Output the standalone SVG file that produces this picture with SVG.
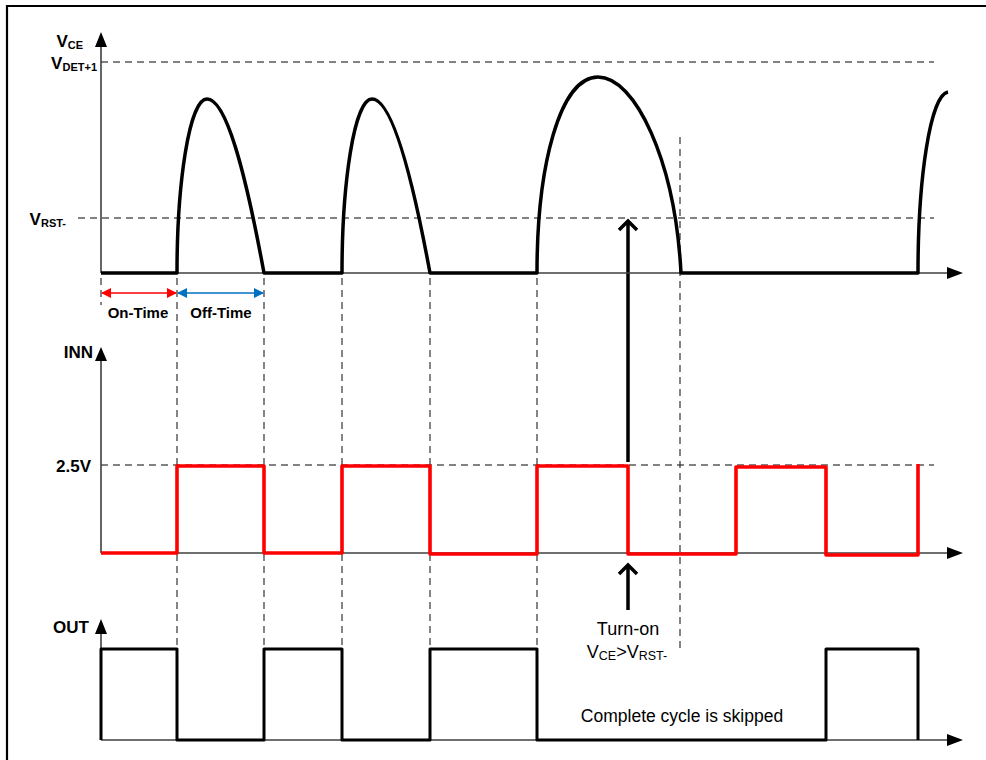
<svg xmlns="http://www.w3.org/2000/svg" width="986" height="760" viewBox="0 0 986 760">
<defs>
<style>
.ax{stroke:#404040;stroke-width:1.6;fill:none}
.ah{fill:#000}
.hdash{stroke:#595959;stroke-width:1.3;stroke-dasharray:7 5;fill:none}
.vdash{stroke:#222;stroke-width:1.1;stroke-dasharray:7 5;fill:none}
.wave{stroke:#000;stroke-width:3.5;fill:none;stroke-linejoin:round}
.red{stroke:#FF0000;stroke-width:3.6;fill:none;stroke-linejoin:round}
.lbl{font-family:"Liberation Sans",Arial,sans-serif;font-weight:bold;font-size:17px;fill:#000}
.sub{font-size:11px}
.lbl.sm{font-size:15px}
.txt{font-family:"Liberation Sans",Arial,sans-serif;font-size:18px;fill:#000}
.txs{font-size:12.5px}
.big{stroke:#000;stroke-width:3.5;fill:none}
</style>
<marker id="redA" markerWidth="10" markerHeight="10" refX="9" refY="5" orient="auto-start-reverse" markerUnits="userSpaceOnUse"><path d="M0,0 L10,5 L0,10 z" fill="#FF0000"/></marker>
<marker id="blueA" markerWidth="10" markerHeight="10" refX="9" refY="5" orient="auto-start-reverse" markerUnits="userSpaceOnUse"><path d="M0,0 L10,5 L0,10 z" fill="#0070C0"/></marker>
</defs>
<rect width="986" height="760" fill="#fff"/>
<path d="M7,760 V6 H986" stroke="#000" stroke-width="2.2" fill="none"/>

<g id="connectors">
<path class="hdash" d="M101,62 H934"/>
<path class="hdash" d="M78,218 H934"/>
<path class="hdash" d="M101,465 H934"/>
<path class="vdash" d="M101,278 V305"/>
<path class="vdash" d="M177,278 V740"/>
<path class="vdash" d="M264,278 V740"/>
<path class="vdash" d="M342,278 V740"/>
<path class="vdash" d="M430,278 V740"/>
<path class="vdash" d="M537,278 V740"/>
<path class="vdash" d="M680,137 V648"/>
<line x1="102" y1="293" x2="176" y2="293" stroke="#FF0000" stroke-width="1.5" marker-start="url(#redA)" marker-end="url(#redA)"/>
<line x1="178" y1="293" x2="263" y2="293" stroke="#0070C0" stroke-width="1.5" marker-start="url(#blueA)" marker-end="url(#blueA)"/>
<path class="big" d="M628,462 V221 M619,230 L628,221 L637,230"/>
<path class="big" d="M628,610 V565 M619,574 L628,565 L637,574"/>
</g>

<g id="vce-axis">
<path class="ax" d="M101,273 V45 M101,273 H948"/>
<path class="ah" d="M101,32 L107,47 L95,47 z"/>
<path class="ah" d="M963,273 L947,267 L947,279 z"/>
<text class="lbl" x="83" y="47" text-anchor="end">V<tspan class="sub" dy="2">CE</tspan></text>
<text class="lbl" x="97" y="69" text-anchor="end">V<tspan class="sub" dy="2">DET+1</tspan></text>
<text class="lbl" x="66" y="225" text-anchor="end">V<tspan class="sub" dy="2">RST-</tspan></text>
</g>

<g id="vce-wave">
<path class="wave" d="M101,273 H177 C177,185 189,99 207,99 C226,99 245,170 264,273 H342 C342,185 354,99 372,99 C391,99 411,170 430,273 H537 C537,165 560,77 598,77 C635,77 675,160 681,273 H918 C918,180 930,95 948,92"/>
</g>

<g id="inn-axis">
<path class="ax" d="M101,553 V360 M101,553 H948"/>
<path class="ah" d="M101,347 L107,361 L95,361 z"/>
<path class="ah" d="M963,553 L947,547 L947,559 z"/>
<text class="lbl" x="93" y="358" text-anchor="end">INN</text>
<text class="lbl" x="91" y="472" text-anchor="end">2.5V</text>
</g>

<g id="inn-wave">
<path class="red" d="M101,553 H177 V466 H264 V553 H342 V466 H430 V554 H537 V466 H628 V554 H736 V467 H826 V555 H918 V464"/>
</g>

<g id="out-axis">
<path class="ax" d="M101,740 V633 M101,740 H948"/>
<path class="ah" d="M101,619 L107,634 L95,634 z"/>
<path class="ah" d="M963,740 L947,734 L947,746 z"/>
<text class="lbl" x="89" y="633" text-anchor="end">OUT</text>
</g>

<g id="out-wave">
<path class="wave" style="stroke-width:3" d="M101,740 V649 H177 V740 H264 V649 H342 V740 H430 V649 H537 V740 H826 V649 H918 V740"/>
</g>

<g id="labels">
<text class="lbl sm" x="138" y="318" text-anchor="middle">On-Time</text>
<text class="lbl sm" x="221" y="318" text-anchor="middle">Off-Time</text>
<text class="txt" x="628" y="635" text-anchor="middle">Turn-on</text>
<text class="txt" x="627" y="658" text-anchor="middle">V<tspan class="txs" dy="2">CE</tspan><tspan dy="-2">&gt;V</tspan><tspan class="txs" dy="2">RST-</tspan></text>
<text class="txt" x="682" y="722" text-anchor="middle" style="font-size:17.5px">Complete cycle is skipped</text>
</g>
</svg>
